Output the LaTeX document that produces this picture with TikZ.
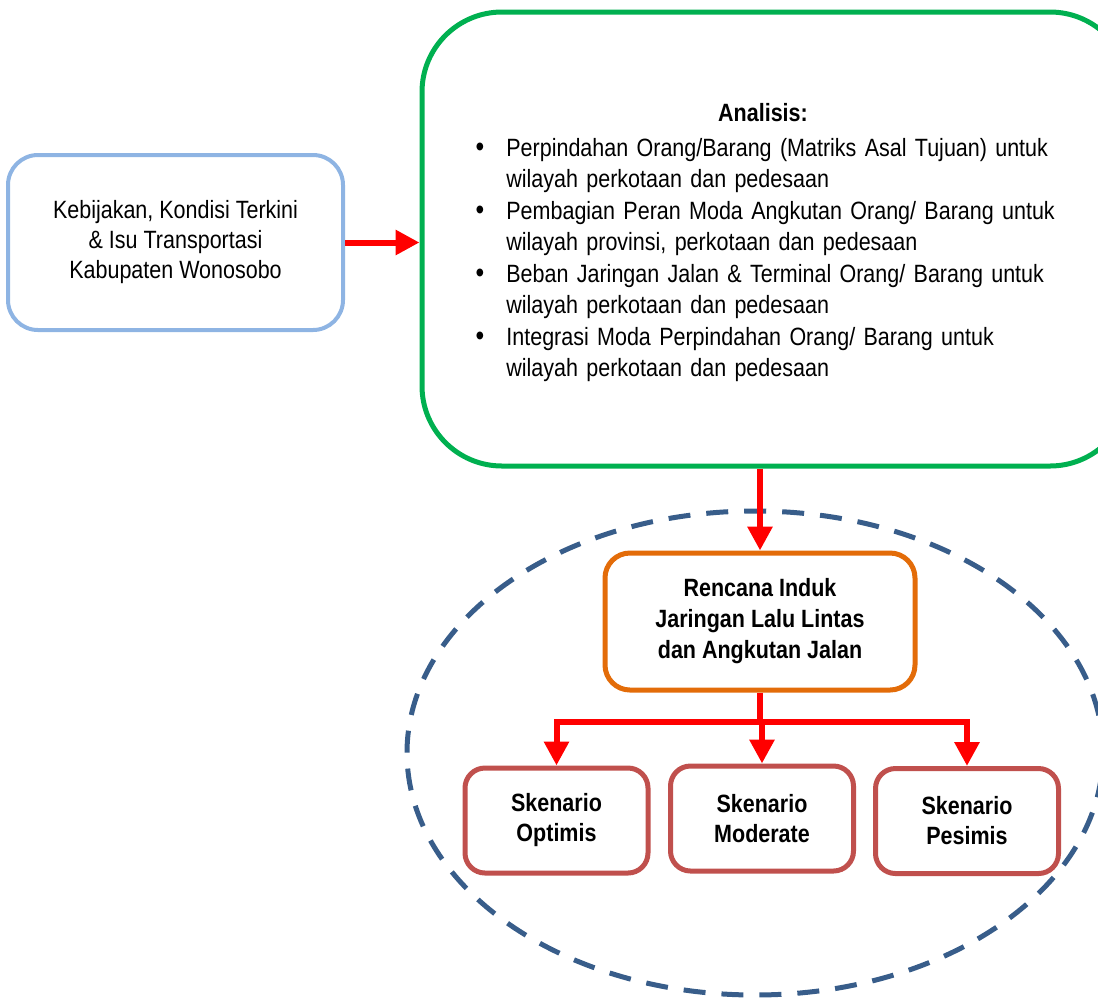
\documentclass[tikz,border=0pt]{standalone}
\usepackage{fontspec}
\setmainfont{Liberation Sans}[FakeStretch=0.86]
\usepackage{enumitem}
\definecolor{kebblue}{HTML}{8EB4E3}
\definecolor{anagreen}{HTML}{00B050}
\definecolor{rinorange}{HTML}{E36C09}
\definecolor{skenred}{HTML}{C0504D}
\definecolor{ringblue}{HTML}{385D8A}
\definecolor{arrred}{HTML}{FF0000}
\usetikzlibrary{shapes.geometric,arrows.meta,positioning}

\tikzset{
  flowbox/.style={draw, line width=2.5pt, align=center,
                  font=\fontsize{12.5pt}{15pt}\selectfont},
  skenbox/.style={flowbox, draw=skenred, rounded corners=10pt,
                  minimum width=91.5pt, minimum height=52.5pt,
                  font=\fontsize{12.5pt}{15pt}\selectfont\bfseries},
  redarrow/.style={-{Triangle[length=12pt,width=12pt]}, draw=arrred,
                   line width=3pt}
}

\begin{document}
\begin{tikzpicture}[x=0.5pt,y=-0.5pt]

  \clip (0,0) rectangle (1098,998);

  %% Dashed ellipse round the plan
  \node[draw=ringblue, line width=2.5pt, dash pattern=on 11pt off 8pt,
        ellipse, minimum width=348pt, minimum height=242pt]
    (ring) at (755,753) {};

  %% Policy node
  \node[flowbox, draw=kebblue, line width=2pt, rounded corners=15pt,
        minimum width=167.5pt, minimum height=87.5pt]
    (keb) at (175.5,242.5) {Kebijakan, Kondisi Terkini\\
                            \& Isu Transportasi\\
                            Kabupaten Wonosobo};

  %% Analysis node
  \node[flowbox, draw=anagreen, rounded corners=40pt,
        minimum width=354pt, minimum height=227pt]
    (ana) at (776,239) {};

  \node[font=\fontsize{12.5pt}{15pt}\selectfont\bfseries]
    (anatitle) at (763,113) {Analisis:};

  \node[anchor=north west, inner sep=0pt, text width=320pt,
        font=\fontsize{12.5pt}{15.5pt}\selectfont]
    (analist) at (466,125) {%
    \begin{itemize}[leftmargin=20pt, labelsep=11pt, topsep=0pt,
                    itemsep=0.5pt, parsep=0pt, partopsep=0pt,
                    label={\Large\textbullet}]
      \item Perpindahan Orang/Barang (Matriks Asal Tujuan) untuk\\
            wilayah perkotaan dan pedesaan
      \item Pembagian Peran Moda Angkutan Orang/ Barang untuk\\
            wilayah provinsi, perkotaan dan pedesaan
      \item Beban Jaringan Jalan \& Terminal Orang/ Barang untuk\\
            wilayah perkotaan dan pedesaan
      \item Integrasi Moda Perpindahan Orang/ Barang untuk\\
            wilayah perkotaan dan pedesaan
    \end{itemize}};

  %% Master plan node
  \node[flowbox, draw=rinorange, rounded corners=12.5pt,
        minimum width=155pt, minimum height=68.5pt,
        font=\fontsize{12.5pt}{15.5pt}\selectfont\bfseries]
    (rin) at (760,621.5) {Rencana Induk\\
                          Jaringan Lalu Lintas\\
                          dan Angkutan Jalan};

  %% Scenario nodes
  \node[skenbox] (opt) at (556.5,820.5) {Skenario\\Optimis};
  \node[skenbox] (mod) at (762,818.5)   {Skenario\\Moderate};
  \node[skenbox] (pes) at (967,821)     {Skenario\\Pesimis};

  %% Arrows
  \draw[redarrow] (keb.east) -- (keb.east -| ana.west);
  \draw[redarrow] (ana.south -| rin.north) -- (rin.north);

  \coordinate (fork) at (760,722);
  \draw[draw=arrred, line width=3pt] (rin.south) -- (fork);
  \draw[redarrow] (fork) -| (opt.north);
  \draw[redarrow] (fork) -- (fork -| mod.north) -- (mod.north);
  \draw[redarrow] (fork) -| (pes.north);

\end{tikzpicture}
\end{document}
